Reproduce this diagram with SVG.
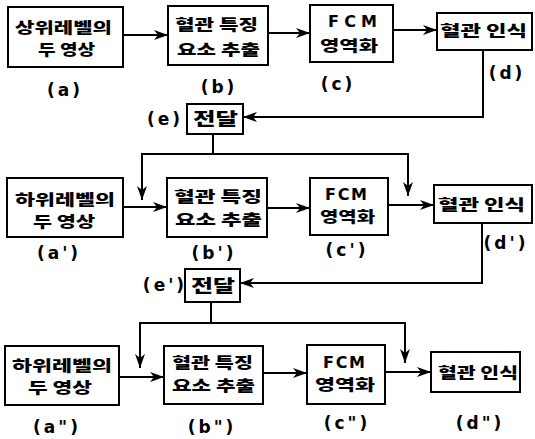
<svg xmlns="http://www.w3.org/2000/svg" width="535" height="439" viewBox="0 0 535 439">
<style>
.box{fill:#fff;stroke:#000;stroke-width:2}
.ln{fill:none;stroke:#000;stroke-width:2}
.k{font-family:"Noto Sans CJK KR","Noto Sans",sans-serif;font-weight:900;font-size:15px;fill:#000}
.f{font-family:"DejaVu Sans","Liberation Sans",sans-serif;font-weight:bold;font-size:16px}
.lb{font-family:"DejaVu Sans","Liberation Sans",sans-serif;font-weight:bold;font-size:17px;fill:#000;text-anchor:middle;letter-spacing:3px}
</style>
<defs>
<marker id="ah" markerUnits="userSpaceOnUse" markerWidth="15" markerHeight="11" refX="14" refY="5.5" orient="auto">
<path d="M0,0.5 L14,5.5 L0,10.5 L4,5.5 Z" fill="#000"/>
</marker>
</defs>
<rect width="535" height="439" fill="#fff"/>
<g id="connectors">
<line class="ln" x1="123" y1="35" x2="168" y2="35" marker-end="url(#ah)"/>
<line class="ln" x1="268" y1="33" x2="310" y2="33" marker-end="url(#ah)"/>
<line class="ln" x1="393" y1="30" x2="437" y2="30" marker-end="url(#ah)"/>
<polyline class="ln" points="483,50 483,117 243,117" marker-end="url(#ah)"/>
<line class="ln" x1="213" y1="134" x2="213" y2="154"/>
<polyline class="ln" points="142,154 408,154 408,196" marker-end="url(#ah)"/>
<line class="ln" x1="142" y1="153" x2="142" y2="200" marker-end="url(#ah)"/>
<line class="ln" x1="123" y1="207" x2="167" y2="207" marker-end="url(#ah)"/>
<line class="ln" x1="267" y1="208" x2="310" y2="208" marker-end="url(#ah)"/>
<line class="ln" x1="388" y1="205" x2="434" y2="205" marker-end="url(#ah)"/>
<polyline class="ln" points="482,223 482,283 240,283" marker-end="url(#ah)"/>
<line class="ln" x1="211" y1="302" x2="211" y2="323"/>
<polyline class="ln" points="140,323 405,323 405,363" marker-end="url(#ah)"/>
<line class="ln" x1="140" y1="322" x2="140" y2="368" marker-end="url(#ah)"/>
<line class="ln" x1="119" y1="377" x2="164" y2="377" marker-end="url(#ah)"/>
<line class="ln" x1="263" y1="373" x2="307" y2="373" marker-end="url(#ah)"/>
<line class="ln" x1="385" y1="372" x2="431" y2="372" marker-end="url(#ah)"/>
</g>
<g id="a">
<rect class="box" x="8" y="7" width="115" height="60"/>
<text class="k"><tspan x="15" y="32.5" textLength="97" lengthAdjust="spacingAndGlyphs">상위레벨의</tspan><tspan x="38" y="54.5" textLength="57" lengthAdjust="spacingAndGlyphs">두 영상</tspan></text>
<text class="lb" x="65" y="96">(a)</text>
</g>
<g id="b">
<rect class="box" x="168" y="6" width="100" height="59"/>
<text class="k"><tspan x="175" y="29.5" textLength="83" lengthAdjust="spacingAndGlyphs">혈관 특징</tspan><tspan x="177" y="54.5" textLength="83" lengthAdjust="spacingAndGlyphs">요소 추출</tspan></text>
<text class="lb" x="219" y="93">(b)</text>
</g>
<g id="c">
<rect class="box" x="310" y="5" width="83" height="57"/>
<text class="k"><tspan class="f" x="328" y="26.5" textLength="49" lengthAdjust="spacing">FCM</tspan><tspan x="320" y="51" textLength="58" lengthAdjust="spacingAndGlyphs">영역화</tspan></text>
<text class="lb" x="338" y="90">(c)</text>
</g>
<g id="d">
<rect class="box" x="437" y="13" width="95" height="37"/>
<text class="k" x="440" y="35.5" textLength="87" lengthAdjust="spacingAndGlyphs">혈관 인식</text>
<text class="lb" x="507" y="79">(d)</text>
</g>
<g id="e">
<rect class="box" x="187" y="104" width="56" height="30"/>
<text class="k" x="193" y="125" textLength="45" lengthAdjust="spacingAndGlyphs" style="font-size:17px">전달</text>
<text class="lb" x="165" y="125">(e)</text>
</g>
<g id="a1">
<rect class="box" x="7" y="178" width="116" height="59"/>
<text class="k"><tspan x="15" y="205" textLength="100" lengthAdjust="spacingAndGlyphs">하위레벨의</tspan><tspan x="33" y="227" textLength="62" lengthAdjust="spacingAndGlyphs">두 영상</tspan></text>
<text class="lb" x="59" y="259">(a')</text>
</g>
<g id="b1">
<rect class="box" x="167" y="178" width="100" height="59"/>
<text class="k"><tspan x="174" y="201.7" textLength="88" lengthAdjust="spacingAndGlyphs">혈관 특징</tspan><tspan x="175" y="224.7" textLength="87" lengthAdjust="spacingAndGlyphs">요소 추출</tspan></text>
<text class="lb" x="214" y="259">(b')</text>
</g>
<g id="c1">
<rect class="box" x="310" y="178" width="78" height="57"/>
<text class="k"><tspan class="f" x="325" y="199.5" textLength="42" lengthAdjust="spacing">FCM</tspan><tspan x="320" y="221.5" textLength="55" lengthAdjust="spacingAndGlyphs">영역화</tspan></text>
<text class="lb" x="347" y="256">(c')</text>
</g>
<g id="d1">
<rect class="box" x="434" y="185" width="98" height="38"/>
<text class="k" x="438" y="209.5" textLength="87" lengthAdjust="spacingAndGlyphs">혈관 인식</text>
<text class="lb" x="506" y="249">(d')</text>
</g>
<g id="e1">
<rect class="box" x="185" y="269" width="55" height="33"/>
<text class="k" x="191" y="291.5" textLength="44" lengthAdjust="spacingAndGlyphs" style="font-size:17px">전달</text>
<text class="lb" x="165" y="291">(e')</text>
</g>
<g id="a2">
<rect class="box" x="5" y="346" width="114" height="59"/>
<text class="k"><tspan x="12" y="370.5" textLength="100" lengthAdjust="spacingAndGlyphs">하위레벨의</tspan><tspan x="28" y="392.5" textLength="64" lengthAdjust="spacingAndGlyphs">두 영상</tspan></text>
<text class="lb" x="57" y="433">(a")</text>
</g>
<g id="b2">
<rect class="box" x="164" y="346" width="99" height="58"/>
<text class="k"><tspan x="172" y="367.7" textLength="81" lengthAdjust="spacingAndGlyphs">혈관 특징</tspan><tspan x="172" y="390.7" textLength="83" lengthAdjust="spacingAndGlyphs">요소 추출</tspan></text>
<text class="lb" x="212" y="433">(b")</text>
</g>
<g id="c2">
<rect class="box" x="307" y="345" width="78" height="59"/>
<text class="k"><tspan class="f" x="323" y="367.5" textLength="42" lengthAdjust="spacing">FCM</tspan><tspan x="315" y="389.5" textLength="60" lengthAdjust="spacingAndGlyphs">영역화</tspan></text>
<text class="lb" x="347" y="429">(c")</text>
</g>
<g id="d2">
<rect class="box" x="431" y="352" width="89" height="40"/>
<text class="k" x="438" y="377.5" textLength="80" lengthAdjust="spacingAndGlyphs">혈관 인식</text>
<text class="lb" x="480" y="429">(d")</text>
</g>
</svg>
